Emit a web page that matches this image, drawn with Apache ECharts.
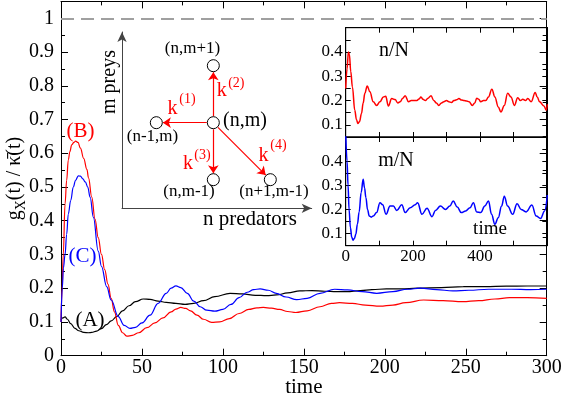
<!DOCTYPE html>
<html>
<head>
<meta charset="utf-8">
<script src="https://cdn.jsdelivr.net/npm/echarts@6.0.0/dist/echarts.min.js"></script>
<style>
  html, body { margin: 0; padding: 0; background: #fff; }
  #main { width: 565px; height: 397px; }
</style>
</head>
<body>
<div id="main"></div>
<script>
// main plot, curve (A) black
var timeA = [0,1,2.5,4,6,8.6,11,14,17,19,22,25,28,31,34.4,38,42,46,50.8,55,60,65,71,76.6,82,88,95,104.4,112,120,127,133,140,147.6,155,163,170,176.5,185,192,201,210,220,235,248.5,262,275,288,300];
var gA = [0.105,0.112,0.115,0.108,0.095,0.081,0.074,0.069,0.068,0.069,0.073,0.08,0.092,0.103,0.116,0.133,0.148,0.16,0.168,0.167,0.162,0.158,0.155,0.152,0.155,0.163,0.175,0.185,0.183,0.179,0.178,0.18,0.186,0.192,0.193,0.191,0.19,0.19,0.193,0.196,0.198,0.198,0.2,0.202,0.2045,0.205,0.206,0.2065,0.2065];
// curve (B) red
var timeB = [0,0.7,1.4,2.5,3.5,4.5,5.5,6.6,8,9,10.5,12,14,16,17,19,21,23,25,27,29,31,33,35.4,38,40.6,44,48,53,58,63,68,71,74,77,80,84,88,93,98,104,110,116,121,125,130,135,140,145,152,160,167,172,180,188,197,205,213,224,236,248,258,268,277,288,300];
var gB = [0.10,0.20,0.30,0.45,0.52,0.58,0.605,0.625,0.632,0.636,0.632,0.615,0.585,0.552,0.527,0.47,0.405,0.35,0.30,0.255,0.212,0.17,0.13,0.09,0.068,0.058,0.06,0.068,0.083,0.097,0.112,0.13,0.138,0.143,0.14,0.133,0.12,0.108,0.099,0.1,0.11,0.125,0.137,0.142,0.143,0.141,0.137,0.131,0.128,0.133,0.145,0.155,0.157,0.155,0.15,0.147,0.15,0.157,0.165,0.163,0.16,0.163,0.168,0.172,0.172,0.17];
// curve (C) blue
var timeC = [0,0.8,1.5,2.5,3.5,4.5,6,7.6,9,10.7,12,13.5,15,16.5,18,20,23,25,28.2,31,35.4,39,42.6,46,50,55,60,65,68,71,74,78,82,86,90,95,100,105,110,115,119,123,128,133,139,145.6,152,160,169,177,186,195,205,214,222,232,242,252,264,278,290,300];
var gC = [0.10,0.20,0.26,0.30,0.36,0.42,0.46,0.50,0.52,0.533,0.532,0.524,0.515,0.5,0.47,0.41,0.31,0.265,0.205,0.165,0.116,0.09,0.081,0.084,0.097,0.12,0.155,0.185,0.2,0.207,0.202,0.185,0.162,0.145,0.135,0.132,0.137,0.152,0.172,0.188,0.196,0.198,0.194,0.185,0.174,0.166,0.17,0.185,0.197,0.195,0.19,0.185,0.19,0.197,0.2,0.196,0.192,0.194,0.197,0.197,0.196,0.197];

// inset time series
var timeN = [0,4,8,11,15,20,27,32,36,41,47,52,57,64,72,82,92,102,112,119,127,137,147,155,162,170,177,187,195,202,212,218,224,230,237,245,254,262,270,277,285,292,300,307,315,322,330,337,345,352,360,367,377,384,390,396,402,410,417,425,435,444,454,462,472,482,492,502,512,520,527,535,542,552,564,570,577,590,597,600];
var nFrac = [0.25,0.33,0.40,0.39,0.32,0.256,0.16,0.122,0.106,0.113,0.147,0.19,0.23,0.26,0.236,0.195,0.18,0.195,0.215,0.218,0.178,0.208,0.204,0.19,0.195,0.21,0.22,0.195,0.2,0.2,0.2,0.206,0.215,0.205,0.2,0.21,0.22,0.2,0.19,0.18,0.19,0.195,0.2,0.195,0.192,0.2,0.203,0.208,0.202,0.2,0.198,0.195,0.18,0.19,0.21,0.205,0.195,0.2,0.2,0.215,0.247,0.215,0.174,0.153,0.18,0.23,0.215,0.18,0.212,0.2,0.205,0.2,0.208,0.195,0.233,0.215,0.195,0.178,0.16,0.185];
var timeM = [0,4,7,10,14,18,22,26,30,35,40,46,52,56,60,65,70,76,82,92,102,110,120,132,142,152,167,177,192,207,214,227,242,257,267,282,297,310,320,332,344,357,370,380,390,402,414,425,434,444,454,464,472,482,497,510,522,537,554,567,580,592,600];
var mFrac = [0.52,0.4,0.30,0.2,0.125,0.085,0.073,0.08,0.097,0.14,0.19,0.27,0.325,0.29,0.25,0.2,0.173,0.168,0.173,0.187,0.228,0.22,0.18,0.214,0.214,0.196,0.22,0.187,0.207,0.22,0.228,0.18,0.205,0.17,0.196,0.214,0.2,0.214,0.235,0.21,0.187,0.194,0.207,0.228,0.19,0.187,0.214,0.235,0.18,0.139,0.166,0.214,0.255,0.214,0.18,0.224,0.2,0.19,0.218,0.173,0.163,0.194,0.26];

// transition diagram: lattice nodes (n, m) and the four moves from the centre
var nodeN = [0, 0, -1, 0, 1];
var nodeM = [0, 1, 0, -1, -1];
var moveTo = [2, 1, 3, 4];  // k(1)..k(4) -> node index

var serif = 'Liberation Serif';
var serifCss = '"Liberation Serif", "DejaVu Serif", serif';

function zip(xs, ys) {
  return xs.map(function (x, i) { return [x, ys[i]]; });
}

var chart = echarts.init(document.getElementById('main'), null, {renderer: 'canvas'});

function frameAxis(grid, pos, min, max, interval, extra) {
  var a = {
    type: 'value', gridIndex: grid, position: pos,
    min: min, max: max, interval: interval,
    axisLine: {show: true, onZero: false, lineStyle: {color: '#000', width: 1}},
    axisTick: {show: true, inside: true, length: 5, lineStyle: {color: '#000'}},
    axisLabel: {show: false},
    splitLine: {show: false}
  };
  return Object.assign(a, extra || {});
}

var mainTick = {show: true, inside: true, length: 7, lineStyle: {color: '#000'}};
var mainMinor = {show: true, splitNumber: 2, length: 4, lineStyle: {color: '#000'}};
var mainLabelY = {
  show: true, fontSize: 20, fontFamily: serif, color: '#000', margin: 7, showMaxLabel: false,
  formatter: function (v) { return v > 1.001 ? '' : String(+v.toFixed(2)); }
};
var insetLabelY = {
  show: true, fontSize: 17, fontFamily: serif, color: '#000', margin: 3,
  formatter: function (v) {
    var r = Math.round(v * 100);
    return (r % 10 === 0 && r <= 40) ? (r / 100).toFixed(1) : '';
  }
};

// shorten each arrow so it runs from circle edge to circle edge
var rNode = 0.115;
var arrowData = moveTo.map(function (j) {
  var dx = nodeN[j] - nodeN[0], dy = nodeM[j] - nodeM[0];
  var len = Math.sqrt(dx * dx + dy * dy);
  var ux = dx / len, uy = dy / len;
  return {coords: [[nodeN[0] + ux * rNode, nodeM[0] + uy * rNode],
                   [nodeN[j] - ux * rNode, nodeM[j] - uy * rNode]]};
});

function txt(s, x, y, size, color, rot) {
  return {
    type: 'text', x: x, y: y, rotation: rot || 0, z: 10,
    style: {
      text: s, fill: color || '#000', font: size + 'px ' + serifCss,
      align: 'center', verticalAlign: 'middle', textAlign: 'center', textVerticalAlign: 'middle'
    }
  };
}

var lineSmooth = {smooth: 0.4, smoothMonotone: 'x', showSymbol: false};

var option = {
  animation: false,
  backgroundColor: '#fff',
  textStyle: {fontFamily: serif},
  grid: [
    {left: 61, top: 1.4, width: 485.7, height: 354.3, outerBoundsMode: 'none', containLabel: false},
    {left: 345.7, top: 27.7, width: 201.6, height: 109.3, outerBoundsMode: 'none', containLabel: false,
      show: true, backgroundColor: '#fff', borderColor: '#000', borderWidth: 1},
    {left: 345.7, top: 137, width: 201.6, height: 108.7, outerBoundsMode: 'none', containLabel: false,
      show: true, backgroundColor: '#fff', borderColor: '#000', borderWidth: 1},
    {left: 122, top: 32, width: 189.7, height: 176.3, outerBoundsMode: 'none', containLabel: false}
  ],
  xAxis: [
    frameAxis(0, 'bottom', 0, 300, 50, {
      axisTick: mainTick, minorTick: mainMinor,
      axisLabel: {show: true, fontSize: 20, fontFamily: serif, color: '#000', margin: 2},
      name: 'time', nameLocation: 'middle', nameGap: 21, nameMoveOverlap: false,
      nameTextStyle: {fontSize: 21, fontFamily: serif, color: '#000'}
    }),
    frameAxis(0, 'top', 0, 300, 50, {axisTick: mainTick, minorTick: mainMinor}),
    frameAxis(1, 'bottom', 0, 600, 100),
    frameAxis(1, 'top', 0, 600, 100),
    frameAxis(2, 'bottom', 0, 600, 100, {
      axisLabel: {show: true, fontSize: 17, fontFamily: serif, color: '#000', margin: 2,
        formatter: function (v) { return (v === 0 || v === 200 || v === 400) ? String(v) : ''; }}
    }),
    frameAxis(2, 'top', 0, 600, 100),
    {
      type: 'value', gridIndex: 3, min: -1.602, max: 1.726,
      axisLine: {show: true, onZero: false, symbol: ['none', 'arrow'], symbolSize: [7, 10],
        lineStyle: {color: '#444', width: 1}},
      axisTick: {show: false}, axisLabel: {show: false}, splitLine: {show: false}
    }
  ],
  yAxis: [
    frameAxis(0, 'left', 0, 1.05, 0.1, {
      axisTick: mainTick, minorTick: mainMinor, axisLabel: mainLabelY,
      name: '{t|g}{s|X}{t|(t) / \u03BA\u0304(t)}', nameLocation: 'middle', nameGap: 33,
      nameMoveOverlap: false,
      nameTextStyle: {
        fontSize: 20, fontFamily: serif, color: '#000',
        rich: {
          t: {fontSize: 20, fontFamily: serif, color: '#000'},
          s: {fontSize: 14, fontFamily: serif, color: '#000', padding: [12, 0, 0, 0]}
        }
      }
    }),
    frameAxis(0, 'right', 0, 1.05, 0.1, {axisTick: mainTick, minorTick: mainMinor}),
    frameAxis(1, 'left', 0.05, 0.5, 0.05, {axisLabel: insetLabelY}),
    frameAxis(1, 'right', 0.05, 0.5, 0.05),
    frameAxis(2, 'left', 0.05, 0.5, 0.05, {axisLabel: insetLabelY}),
    frameAxis(2, 'right', 0.05, 0.5, 0.05),
    {
      type: 'value', gridIndex: 3, min: -1.502, max: 1.591,
      axisLine: {show: true, onZero: false, symbol: ['none', 'arrow'], symbolSize: [7, 10],
        lineStyle: {color: '#444', width: 1}},
      axisTick: {show: false}, axisLabel: {show: false}, splitLine: {show: false}
    }
  ],
  series: [
    Object.assign({
      name: 'A', type: 'line', xAxisIndex: 0, yAxisIndex: 0, data: zip(timeA, gA),
      lineStyle: {color: '#000', width: 1.2},
      markLine: {
        silent: true, symbol: 'none', label: {show: false},
        lineStyle: {color: '#a0a0a0', width: 2, type: [13, 7]},
        data: [{yAxis: 1}]
      }
    }, lineSmooth),
    Object.assign({
      name: 'B', type: 'line', xAxisIndex: 0, yAxisIndex: 0, data: zip(timeB, gB),
      lineStyle: {color: '#ff0000', width: 1.2}
    }, lineSmooth),
    Object.assign({
      name: 'C', type: 'line', xAxisIndex: 0, yAxisIndex: 0, data: zip(timeC, gC),
      lineStyle: {color: '#0000ff', width: 1.2}
    }, lineSmooth),
    Object.assign({
      name: 'n/N', type: 'line', xAxisIndex: 2, yAxisIndex: 2, data: zip(timeN, nFrac),
      lineStyle: {color: '#ff0000', width: 1.5}
    }, lineSmooth),
    Object.assign({
      name: 'm/N', type: 'line', xAxisIndex: 4, yAxisIndex: 4, data: zip(timeM, mFrac),
      lineStyle: {color: '#0000ff', width: 1.5}
    }, lineSmooth),
    {
      name: 'moves', type: 'lines', coordinateSystem: 'cartesian2d', xAxisIndex: 6, yAxisIndex: 6,
      data: arrowData, symbol: ['none', 'arrow'], symbolSize: 8,
      lineStyle: {color: '#ff0000', width: 1.2, opacity: 1}, z: 4
    },
    {
      name: 'states', type: 'scatter', xAxisIndex: 6, yAxisIndex: 6, data: zip(nodeN, nodeM),
      symbol: 'circle', symbolSize: 12,
      itemStyle: {color: '#fff', borderColor: '#000', borderWidth: 1, opacity: 1}, z: 5
    }
  ],
  graphic: [
    txt('(A)', 90, 320, 21, '#000'),
    txt('(B)', 80.5, 131, 21, '#ff0000'),
    txt('(C)', 82.5, 256, 21, '#0000ff'),
    txt('n/N', 394, 51, 20, '#000'),
    txt('m/N', 396, 161, 20, '#000'),
    txt('time', 490, 229, 19, '#000'),
    txt('m preys', 110, 82, 20, '#000', Math.PI / 2),
    txt('n predators', 250, 219, 21, '#000'),
    txt('(n,m+1)', 192.5, 49, 17, '#000'),
    txt('(n,m)', 245, 121, 20, '#000'),
    txt('(n-1,m)', 152.5, 137, 17, '#000'),
    txt('(n,m-1)', 189, 192, 17, '#000'),
    txt('(n+1,m-1)', 274, 192, 17, '#000'),
    txt('k', 172.5, 109, 20, '#ff0000'), txt('(1)', 187.5, 99, 14, '#ff0000'),
    txt('k', 221.7, 91, 20, '#ff0000'), txt('(2)', 236.3, 83, 14, '#ff0000'),
    txt('k', 188, 163.5, 20, '#ff0000'), txt('(3)', 202.5, 155.5, 14, '#ff0000'),
    txt('k', 263.5, 155.5, 20, '#ff0000'), txt('(4)', 278.5, 145.5, 14, '#ff0000')
  ]
};

chart.setOption(option);
</script>
</body>
</html>
